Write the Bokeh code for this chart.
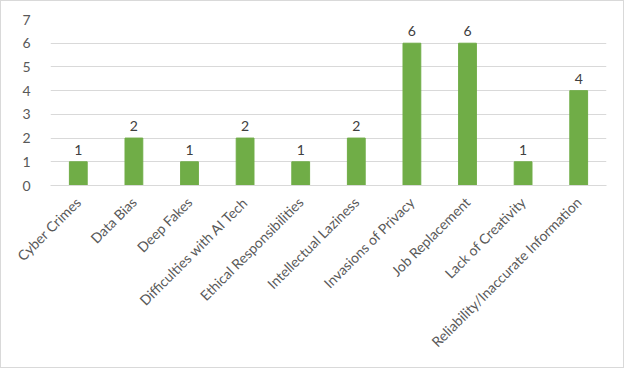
import math
from bokeh.plotting import figure
from bokeh.models import ColumnDataSource, FixedTicker
from bokeh.core.properties import value
from bokeh.embed import file_html
from bokeh.resources import INLINE

categories = ["Cyber Crimes", "Data Bias", "Deep Fakes", "Difficulties with AI Tech",
              "Ethical Responsibilities", "Intellectual Laziness", "Invasions of Privacy",
              "Job Replacement", "Lack of Creativity", "Reliability/Inaccurate Information"]
counts = [1, 2, 1, 2, 1, 2, 6, 6, 1, 4]
y_ticks = [0, 1, 2, 3, 4, 5, 6, 7]

FONT = "Lato"
src = ColumnDataSource(dict(cat=categories, val=counts, lab=[str(v) for v in counts]))

p = figure(x_range=categories, y_range=(0, 7), width=624, height=368,
           output_backend="svg", toolbar_location=None,
           min_border_left=49, min_border_right=19, min_border_top=18, min_border_bottom=184)

p.vbar(x="cat", top="val", width=0.32, source=src, fill_color="#70AD47", line_color="#70AD47")
p.text(x="cat", y="val", text="lab", source=src, text_align="center", text_baseline="bottom",
       y_offset=-7, text_font=value(FONT), text_font_size="14px", text_color="#404040")

p.outline_line_color = None
p.xgrid.grid_line_color = None
p.ygrid.grid_line_color = "#d9d9d9"
p.ygrid.grid_line_width = 1
p.yaxis.ticker = FixedTicker(ticks=y_ticks)
p.yaxis.axis_line_color = None
p.yaxis.major_tick_line_color = None
p.yaxis.minor_tick_line_color = None
p.yaxis.major_label_text_font = FONT
p.yaxis.major_label_text_font_size = "14px"
p.yaxis.major_label_text_color = "#595959"
p.yaxis.major_label_standoff = 14

p.xaxis.axis_line_color = "#d9d9d9"
p.xaxis.major_tick_line_color = None
p.xaxis.minor_tick_line_color = None
p.xaxis.major_label_orientation = math.pi / 4
p.xaxis.major_label_text_font = FONT
p.xaxis.major_label_text_font_size = "14px"
p.xaxis.major_label_text_color = "#595959"
p.xaxis.major_label_standoff = 8

p.styles = {"border": "1px solid #d9d9d9"}

open("out.html", "w").write(file_html(p, INLINE))
